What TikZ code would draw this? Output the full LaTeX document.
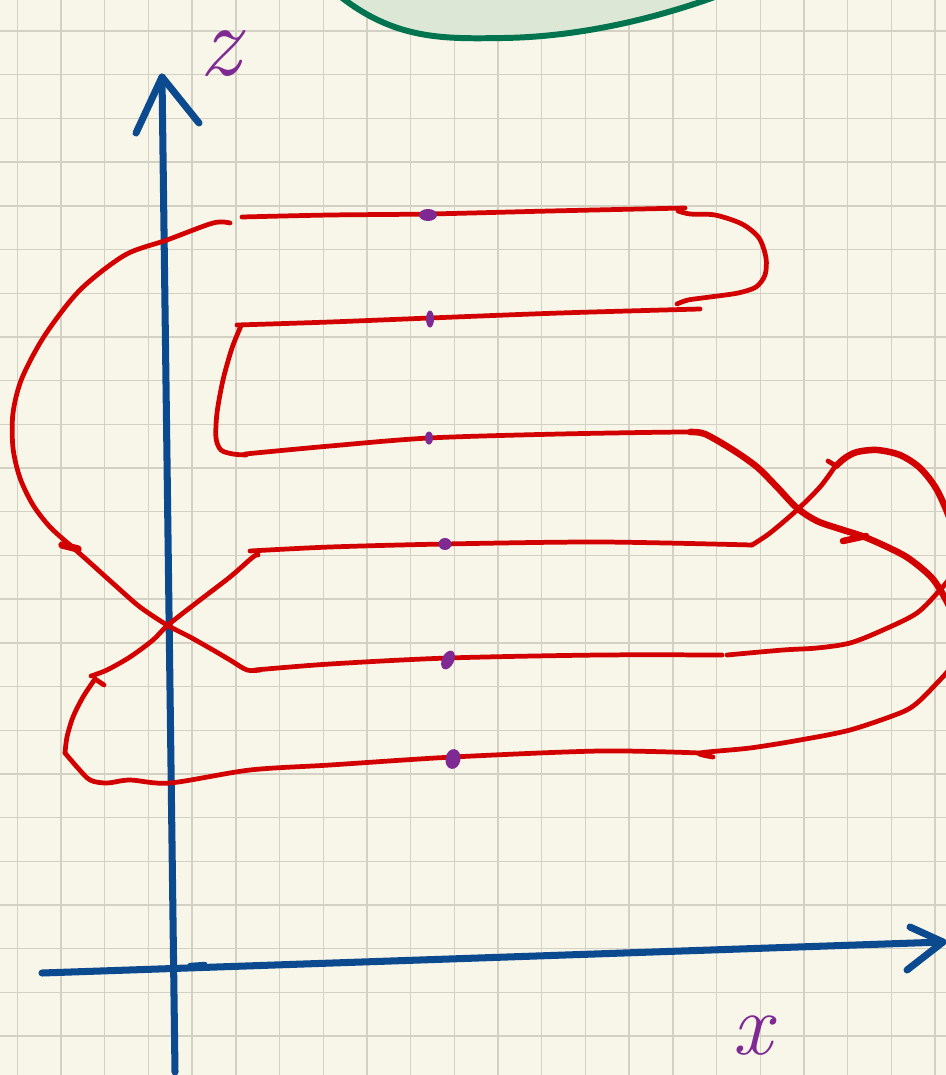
\documentclass[tikz,border=0pt]{standalone}
\usepackage{fontspec}
\definecolor{paper}{HTML}{F8F5E9}
\definecolor{gridc}{HTML}{D3D1C4}
\definecolor{axisblue}{HTML}{0B4A8F}
\definecolor{curvered}{HTML}{D30000}
\definecolor{markpurple}{HTML}{7E2A92}
\definecolor{blobgreen}{HTML}{00734F}
\definecolor{blobfill}{HTML}{DDE7D6}
\tikzset{
  gridline/.style={draw=gridc, line width=0.8pt},
  axis/.style={draw=axisblue, line width=4pt, line cap=round, line join=round},
  curve/.style={draw=curvered, line width=2.7pt, line cap=round, line join=round},
  thickcurve/.style={curve, line width=3.7pt},
  mark dot/.style={fill=markpurple},
  axlabel/.style={text=markpurple, inner sep=0pt}
}
\begin{document}
\begin{tikzpicture}[x=0.02cm, y=-0.02cm]
    \useasboundingbox (0,0) rectangle (946,1075);
    \fill[paper] (0,0) rectangle (946,1075);
    \begin{scope}
    \clip (0,0) rectangle (946,1075);
    % squared paper
    \foreach \k in {0,...,21}
        \draw[gridline] (17.3+43.7*\k,0) -- (17.3+43.7*\k,1075);
    \foreach \k in {0,...,23}
        \draw[gridline] (0,31+43.7*\k) -- (946,31+43.7*\k);
    % green blob cut by the top edge
    \filldraw[fill=blobfill, draw=blobgreen, line width=3.4pt]
        (330,-12) .. controls (390,40) and (440,39) .. (503,38)
        .. controls (580,37) and (660,18) .. (728,-8) -- (728,-40) -- (330,-40) -- cycle;
    % axes
    \coordinate (zbot) at (175,1072);
    \coordinate (ztip) at (162,77);
    \coordinate (zwl) at (136,133);
    \coordinate (zwr) at (199,123);
    \coordinate (xleft) at (42,973);
    \coordinate (xtip) at (943,942);
    \coordinate (xwu) at (910,927);
    \coordinate (xwd) at (907,970);
    \draw[axis] (zbot) -- (ztip);
    \draw[axis] (zwl) -- (ztip) -- (zwr);
    \draw[axis] (xleft) -- (xtip);
    \draw[axis] (xwu) -- (xtip) -- (xwd);
    \draw[axis, line width=2.5pt] (190,965) -- (205,964);
    % red loop: top strand and right bend
    \draw[curve] plot[smooth] coordinates {(242,217) (330,215) (428,214) (550,211) (685,208)};
    \draw[curve] plot[smooth] coordinates {(678,211) (690,214) (715,215) (742,224) (759,238) (766,258)
        (765,275) (756,287) (738,293) (710,297) (688,300) (677,304)};
    % second strand and left bend
    \draw[curve] plot[smooth] coordinates {(700,309) (560,313) (430,318) (330,322) (237,325)};
    \draw[curve] plot[smooth] coordinates {(241,326) (232,348) (223,380) (217,413) (216,438)
        (221,450) (233,454) (246,455)};
    % third strand, over the right crossing and out of the frame
    \draw[curve] plot[smooth] coordinates {(245,454) (330,446) (429,438) (560,434) (683,432) (703,433)};
    \draw[thickcurve] plot[smooth] coordinates {(690,432) (705,434) (733,450) (757,467) (777,487)
        (797,508) (817,521) (840,529) (862,536) (883,545) (905,556) (920,567) (932,578) (941,591)
        (952,612) (958,630)};
    \draw[thickcurve] (843,541) -- (866,536);
    \draw[curve] plot[smooth] coordinates {(958,630) (960,645) (950,668) (937,683) (917,703)
        (900,713) (850,730) (800,740) (750,748) (700,753) (713,757)};
    % bottom strand and lower left bend
    \draw[curve] plot[smooth] coordinates {(700,753) (600,751) (453,757) (330,765) (250,770)
        (170,783) (130,780) (107,783) (90,780) (77,767) (65,753)};
    \draw[curve] plot[smooth] coordinates {(65,753) (67,737) (73,717) (83,697) (95,679)};
    \draw[curve] (95,679) -- (104,685);
    % up through the left crossing
    \draw[curve] plot[smooth] coordinates {(91,676) (107,670) (130,657) (153,640) (168,625)
        (200,600) (230,577) (253,557) (258,555)};
    % fourth strand, up through the right crossing, upper loop
    \draw[curve] plot[smooth] coordinates {(250,551) (330,547) (445,544) (600,542) (752,545)};
    \draw[curve] plot[smooth] coordinates {(752,545) (770,533) (797,510) (820,487) (834,468)};
    \draw[curve] (828,461) -- (836,466);
    \draw[thickcurve] plot[smooth] coordinates {(836,466) (845,458) (857,452) (877,450) (900,455)
        (920,468) (937,490) (952,525) (958,555) (950,578)};
    \draw[curve] plot[smooth] coordinates {(950,578) (940,590) (917,613) (883,630) (850,643)
        (817,648) (783,650) (727,655)};
    % fifth strand, back through the left crossing and the big arc
    \draw[curve] plot[smooth] coordinates {(722,655) (600,655) (448,658) (330,664) (255,670)};
    \draw[curve] plot[smooth] coordinates {(260,670) (247,670) (230,660) (213,650) (190,637)
        (167,625) (140,607) (117,587) (87,560) (70,545)};
    \draw[curve, line width=4.2pt] (62,545) -- (78,549);
    \draw[curve] plot[smooth] coordinates {(70,545) (50,527) (33,505) (20,478) (13,448) (13,413)
        (22,378) (45,335) (80,290) (125,255) (167,240) (213,223) (230,223)};
    % purple marks on the strands
    \fill[mark dot] (428,215) ellipse [x radius=0.18cm, y radius=0.12cm];
    \fill[mark dot] (430,319) ellipse [x radius=0.08cm, y radius=0.17cm];
    \fill[mark dot] (429,438) ellipse [x radius=0.08cm, y radius=0.13cm];
    \fill[mark dot] (445,544) ellipse [x radius=0.13cm, y radius=0.12cm];
    \fill[mark dot] (448,660) ellipse [x radius=0.12cm, y radius=0.2cm, rotate=-25];
    \fill[mark dot] (453,759) ellipse [x radius=0.15cm, y radius=0.2cm, rotate=-10];
    \end{scope}
    % axis labels
    \node[axlabel, font=\fontsize{58}{58}\selectfont\itshape] (zlabel) at (220,54) {z};
    \node[axlabel, font=\fontsize{50}{50}\selectfont\itshape] (xlabel) at (752,1036) {x};
\end{tikzpicture}
\end{document}
